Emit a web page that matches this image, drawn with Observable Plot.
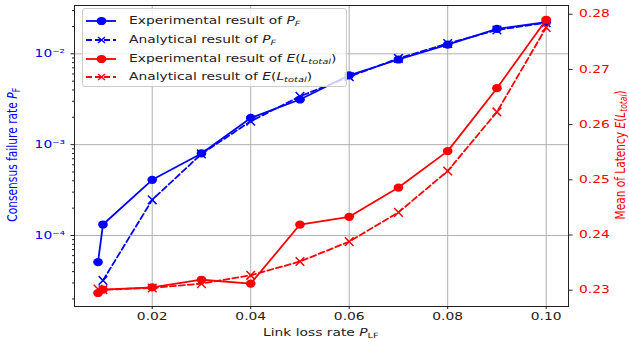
<!DOCTYPE html>
<html><head><meta charset="utf-8">
<script src="https://cdn.jsdelivr.net/npm/d3@7"></script>
<script src="https://cdn.jsdelivr.net/npm/@observablehq/plot@0.6"></script>
<style>
body{margin:0;background:#fff;}
#wrap{position:relative;width:629px;height:342px;overflow:hidden;font-family:"DejaVu Sans",sans-serif;}
#wrap > svg{position:absolute;left:0;top:0;}
.lab{position:absolute;white-space:nowrap;line-height:1;}
.ylab{font-size:13.7px;transform-origin:center center;}
#legend{position:absolute;left:82px;top:8px;width:265px;height:79px;background:rgba(255,255,255,0.8);border:1px solid #cccccc;border-radius:3px;box-sizing:border-box;}
.row{position:absolute;left:0;height:18px;display:flex;align-items:center;color:#222;}
.row svg{margin-left:3px;margin-right:13px;flex:none;}
.row span{display:inline-block;font-size:10px;line-height:1;transform:scaleX(1.38);transform-origin:left center;white-space:nowrap;}
sub{font-size:0.72em;vertical-align:-0.28em;line-height:0;}
</style></head><body><div id="wrap"></div>
<script>
// ---- data ----
const xExp = [0.009, 0.01, 0.02, 0.03, 0.04, 0.05, 0.06, 0.07, 0.08, 0.09, 0.10];
const pfExp = [5.1e-5, 1.32e-4, 4.1e-4, 8.0e-4, 1.97e-3, 3.14e-3, 5.8e-3, 8.66e-3, 1.26e-2, 1.88e-2, 2.23e-2];
const xPfAna = [0.01, 0.02, 0.03, 0.04, 0.05, 0.06, 0.07, 0.08, 0.09, 0.10];
const pfAna = [3.2e-5, 2.47e-4, 7.9e-4, 1.81e-3, 3.4e-3, 5.6e-3, 8.9e-3, 1.3e-2, 1.83e-2, 2.2e-2];
const latExp = [0.2295, 0.2301, 0.2305, 0.2319, 0.2312, 0.2419, 0.2433, 0.2486, 0.2552, 0.2666, 0.2790];
const xLatAna = [0.009, 0.01, 0.02, 0.03, 0.04, 0.05, 0.06, 0.07, 0.08, 0.09, 0.10];
const latAna = [0.2302, 0.2301, 0.2304, 0.2312, 0.2327, 0.2352, 0.2388, 0.2441, 0.2516, 0.2623, 0.2776];
const xTicks = [0.02, 0.04, 0.06, 0.08, 0.10];
const pfTicks = [1e-4, 1e-3, 1e-2];
const pfTickLabels = ["10\u207B\u2074", "10\u207B\u00B3", "10\u207B\u00B2"];
const pfMinor = [2e-5,3e-5,4e-5,5e-5,6e-5,7e-5,8e-5,9e-5,2e-4,3e-4,4e-4,5e-4,6e-4,7e-4,8e-4,9e-4,2e-3,3e-3,4e-3,5e-3,6e-3,7e-3,8e-3,9e-3,2e-2,3e-2];
const latTicks = [0.23, 0.24, 0.25, 0.26, 0.27, 0.28];
const legendLabels = [
  'Experimental result of <i>P</i><sub><i>F</i></sub>',
  'Analytical result of <i>P</i><sub><i>F</i></sub>',
  'Experimental result of <i>E</i>(<i>L</i><sub><i>total</i></sub>)',
  'Analytical result of <i>E</i>(<i>L</i><sub><i>total</i></sub>)'
];

const BLUE = "#0000ff", RED = "#ff0000";
const STRETCH = 1.38; // horizontal stretch of the original figure
const pfExpData = xExp.map((x, i) => ({x, y: pfExp[i]}));
const pfAnaData = xPfAna.map((x, i) => ({x, y: pfAna[i]}));
const latExpData = xExp.map((x, i) => ({x, y: latExp[i]}));
const latAnaData = xLatAna.map((x, i) => ({x, y: latAna[i]}));

const common = {
  width: 629, height: 342,
  marginLeft: 74, marginRight: 61, marginTop: 5, marginBottom: 36,
  style: {fontFamily: "DejaVu Sans, sans-serif", fontSize: "10px", background: "transparent", color: "#222"}
};
const xDomain = [0.00422, 0.10453];

const p1 = Plot.plot({
  ...common,
  x: {domain: xDomain},
  y: {type: "log", domain: [Math.pow(10, -4.782), Math.pow(10, -1.468)]},
  marks: [
    Plot.gridX(xTicks, {stroke: "#b0b0b0", strokeOpacity: 1, strokeWidth: 1}),
    Plot.gridY(pfTicks, {stroke: "#b0b0b0", strokeOpacity: 1, strokeWidth: 1}),
    Plot.axisX({ticks: xTicks, tickFormat: d3.format(".2f"), tickSize: 3, tickPadding: 3, label: null, stroke: "#222", fill: "#222"}),
    Plot.axisY({ticks: pfMinor, tickFormat: () => "", tickSize: 2, label: null, stroke: "#222"}),
    Plot.axisY({ticks: pfTicks, tickFormat: d => pfTickLabels[pfTicks.indexOf(d)], tickSize: 3.5, tickPadding: 6, label: null, stroke: "#222", fill: BLUE}),
    Plot.line(pfAnaData, {x: "x", y: "y", stroke: BLUE, strokeWidth: 1.8, strokeDasharray: "6,3"}),
    Plot.dot(pfAnaData, {x: "x", y: "y", symbol: "times", stroke: BLUE, strokeWidth: 1.5, r: 4}),
    Plot.line(pfExpData, {x: "x", y: "y", stroke: BLUE, strokeWidth: 1.8}),
    Plot.dot(pfExpData, {x: "x", y: "y", fill: BLUE, r: 4.1}),
    Plot.frame({stroke: "#222", strokeWidth: 1})
  ]
});

const p2 = Plot.plot({
  ...common,
  x: {domain: xDomain, axis: null},
  y: {domain: [0.22705, 0.28158]},
  marks: [
    Plot.axisY({anchor: "right", ticks: latTicks, tickFormat: d3.format(".2f"), tickSize: 3.5, tickPadding: 7, label: null, stroke: "#222", fill: RED}),
    Plot.line(latAnaData, {x: "x", y: "y", stroke: RED, strokeWidth: 1.8, strokeDasharray: "6,3"}),
    Plot.dot(latAnaData, {x: "x", y: "y", symbol: "times", stroke: RED, strokeWidth: 1.5, r: 4}),
    Plot.line(latExpData, {x: "x", y: "y", stroke: RED, strokeWidth: 1.8}),
    Plot.dot(latExpData, {x: "x", y: "y", fill: RED, r: 4.1})
  ]
});

// reproduce the horizontal stretch of the original figure on texts and dots
function num(v) { const n = parseFloat(v); return isFinite(n) ? n : 0; }
function stretch(svg) {
  svg.querySelectorAll("text").forEach(t => {
    const x = num(t.getAttribute("x"));
    const T = t.getAttribute("transform") || "";
    t.setAttribute("transform", `${T} translate(${x},0) scale(${STRETCH},1) translate(${-x},0)`);
  });
  svg.querySelectorAll("circle").forEach(c => {
    const x = num(c.getAttribute("cx"));
    const T = c.getAttribute("transform") || "";
    c.setAttribute("transform", `${T} translate(${x},0) scale(1.18,1) translate(${-x},0)`);
  });
}
stretch(p1); stretch(p2);

const wrap = document.getElementById("wrap");
wrap.appendChild(p1);
wrap.appendChild(p2);

// axis labels
function addLabel(html, cls, css) {
  const d = document.createElement("div");
  d.className = "lab " + cls;
  d.innerHTML = html;
  Object.assign(d.style, css);
  wrap.appendChild(d);
  return d;
}
const xl = addLabel('Link loss rate <i>P</i><sub>LF</sub>', "", {fontSize: "10px", color: "#222"});
xl.style.left = (321 - xl.offsetWidth / 2) + "px";
xl.style.top = (333 - xl.offsetHeight / 2) + "px";
xl.style.transform = `scaleX(${STRETCH})`;

function yLabel(html, color, cx, cy, len) {
  const d = addLabel(html, "ylab", {color});
  d.style.left = (cx - d.offsetWidth / 2) + "px";
  d.style.top = (cy - d.offsetHeight / 2) + "px";
  const s = len / d.offsetWidth;
  d.style.transform = `rotate(-90deg) scaleX(${s})`;
}
yLabel('Consensus failure rate <i>P</i><sub>F</sub>', BLUE, 13, 155, 134);
yLabel('Mean of Latency <i>E</i>(<i>L</i><sub><i>total</i></sub>)', RED, 620, 155, 129);

// legend
const legendStyle = [
  {color: BLUE, dash: null, marker: "o"},
  {color: BLUE, dash: "6,3", marker: "x"},
  {color: RED, dash: null, marker: "o"},
  {color: RED, dash: "6,3", marker: "x"}
];
const leg = document.createElement("div");
leg.id = "legend";
wrap.appendChild(leg);
const rowsY = [13.3, 31.7, 50.7, 69];
legendStyle.forEach((it, i) => {
  const r = document.createElement("div");
  r.className = "row";
  r.style.top = (rowsY[i] - 9 - 1) + "px";
  const m = it.marker === "o"
    ? `<ellipse cx="15.5" cy="9" rx="4.9" ry="4.1" fill="${it.color}"/>`
    : `<path d="M12,6L19,12M19,6L12,12" stroke="${it.color}" stroke-width="1.5"/>`;
  r.innerHTML = `<svg width="30" height="18"><line x1="0" x2="30" y1="9" y2="9" stroke="${it.color}" stroke-width="1.8" ${it.dash ? `stroke-dasharray="${it.dash}"` : ""}/>${m}</svg><span>${legendLabels[i]}</span>`;
  leg.appendChild(r);
});
</script>
</body></html>
